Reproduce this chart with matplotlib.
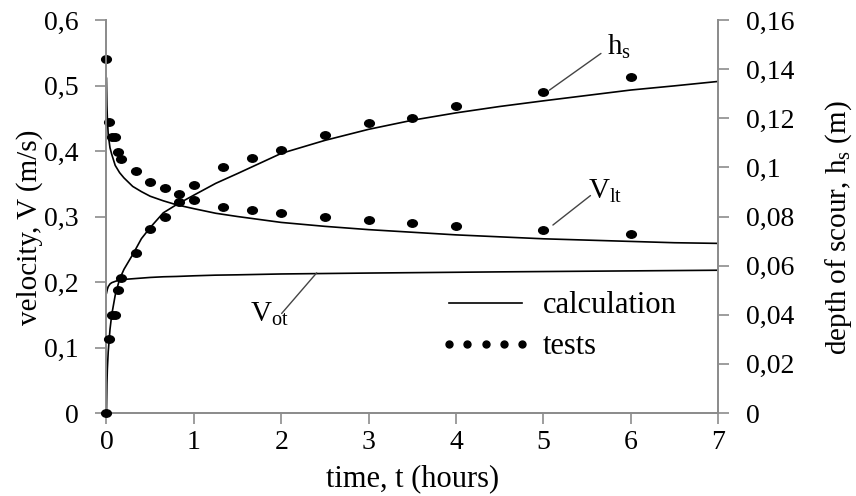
import matplotlib
matplotlib.use("Agg")
import matplotlib.pyplot as plt
from matplotlib.path import Path
from matplotlib.transforms import Affine2D
from matplotlib.lines import Line2D

plt.rcParams['font.family'] = ['Liberation Serif', 'DejaVu Serif']
plt.rcParams['mathtext.default'] = 'regular'

# measured points (tests)
t_tests = [0, 0.033, 0.067, 0.1, 0.133, 0.167, 0.333, 0.5, 0.667, 0.833,
           1.0, 1.333, 1.667, 2.0, 2.5, 3.0, 3.5, 4.0, 5.0, 6.0]
v_tests = [0.54, 0.445, 0.421, 0.421, 0.399, 0.388, 0.370, 0.352, 0.344, 0.335,
           0.325, 0.315, 0.310, 0.306, 0.299, 0.295, 0.290, 0.286, 0.280, 0.274]
h_tests = [0, 0.030, 0.040, 0.040, 0.050, 0.055, 0.065, 0.075, 0.080, 0.086,
           0.093, 0.100, 0.104, 0.107, 0.113, 0.118, 0.120, 0.125, 0.1305, 0.137]

# calculated curves
t_calc = [0, 0.005, 0.01, 0.02, 0.04, 0.06, 0.1, 0.15, 0.2, 0.3, 0.4, 0.5, 0.65, 0.8,
          1.0, 1.25, 1.5, 2.0, 2.5, 3.0, 3.5, 4.0, 4.5, 5.0, 5.5, 6.0, 6.5, 7.0]
v_lt_calc = [0.511, 0.47, 0.45, 0.425, 0.405, 0.395, 0.378, 0.367, 0.359, 0.346, 0.338,
             0.331, 0.324, 0.318, 0.312, 0.305, 0.300, 0.291, 0.285, 0.280, 0.276,
             0.272, 0.269, 0.266, 0.264, 0.262, 0.260, 0.259]
v_ot_calc = [0.183, 0.186, 0.189, 0.193, 0.197, 0.199, 0.201, 0.203, 0.204, 0.205, 0.206,
             0.207, 0.208, 0.2085, 0.2095, 0.2105, 0.211, 0.2123, 0.213, 0.2137, 0.2143,
             0.2149, 0.2155, 0.216, 0.2165, 0.217, 0.2175, 0.218]
h_calc = [0, 0.012, 0.018, 0.025, 0.034, 0.040, 0.048, 0.0545, 0.0585, 0.0645, 0.071,
          0.0755, 0.0815, 0.0848, 0.0887, 0.0935, 0.0975, 0.1057, 0.111, 0.1155, 0.1192,
          0.1222, 0.1248, 0.1271, 0.1293, 0.1315, 0.1332, 0.1350]

v_ticks = [0, 0.1, 0.2, 0.3, 0.4, 0.5, 0.6]
v_ticklabels = ['0', '0,1', '0,2', '0,3', '0,4', '0,5', '0,6']
h_ticks = [0, 0.02, 0.04, 0.06, 0.08, 0.1, 0.12, 0.14, 0.16]
h_ticklabels = ['0', '0,02', '0,04', '0,06', '0,08', '0,1', '0,12', '0,14', '0,16']

axis_grey = '#8c8c8c'

# dots in the picture are a bit wider than tall
dot = Path.unit_circle().transformed(Affine2D().scale(1.3, 1.0))

fig = plt.figure(figsize=(8.56, 4.96), dpi=100)
ax = fig.add_axes([0.1244, 0.1673, 0.7144, 0.7923])
ax2 = ax.twinx()

ax.plot(t_calc, v_lt_calc, color='black', lw=1.2)
ax.plot(t_calc, v_ot_calc, color='black', lw=1.2)
ax2.plot(t_calc, h_calc, color='black', lw=1.2)

ax.plot(t_tests, v_tests, ls='none', marker=dot, ms=7, color='black', clip_on=False, zorder=5)
ax2.plot(t_tests, h_tests, ls='none', marker=dot, ms=7, color='black', clip_on=False, zorder=5)

ax.set_xlim(0, 7)
ax.set_ylim(0, 0.6)
ax2.set_ylim(0, 0.16)
ax.set_xticks(range(8))
ax.set_yticks(v_ticks)
ax.set_yticklabels(v_ticklabels)
ax2.set_yticks(h_ticks)
ax2.set_yticklabels(h_ticklabels)

for a in (ax, ax2):
    a.spines['top'].set_visible(False)
    for s in ('left', 'right', 'bottom'):
        a.spines[s].set_color(axis_grey)
        a.spines[s].set_linewidth(1.3)
    a.tick_params(direction='out', length=8, width=1.2, color=axis_grey,
                  labelsize=20, pad=12)
ax.tick_params(axis='x', pad=4)

ax.set_xlabel('time, t (hours)', fontsize=22, labelpad=7)
ax.set_ylabel('velocity, V (m/s)', fontsize=21)
ax.yaxis.set_label_coords(-0.104, 0.473)
ax2.set_ylabel('depth of scour, h$_s$ (m)', fontsize=21)
ax2.yaxis.set_label_coords(1.172, 0.471)

# curve labels with leader lines
lead = dict(arrowstyle='-', color='#444444', lw=1.0, shrinkA=0, shrinkB=0)
ax.annotate('', xy=(5.07, 0.493), xytext=(5.66, 0.549), arrowprops=lead)
ax.text(5.73, 0.547, 'h$_s$', fontsize=21, va='baseline')
ax.annotate('', xy=(5.11, 0.287), xytext=(5.54, 0.332), arrowprops=lead)
ax.text(5.51, 0.327, 'V$_{lt}$', fontsize=21, va='baseline')
ax.annotate('', xy=(2.005, 0.152), xytext=(2.406, 0.214), arrowprops=lead)
ax.text(1.643, 0.139, 'V$_{ot}$', fontsize=21, va='baseline')

handles = [Line2D([], [], color='black', lw=1.2),
           Line2D([], [], ls='none', marker='o', ms=5, color='black')]
ax.legend(handles, ['calculation', 'tests'], loc='upper left',
          bbox_to_anchor=(0.545, 0.31), frameon=False, fontsize=22,
          numpoints=5, handlelength=3.0, handletextpad=0.36,
          borderpad=0, borderaxespad=0, labelspacing=0.4)

fig.savefig('out.png', dpi=100)
